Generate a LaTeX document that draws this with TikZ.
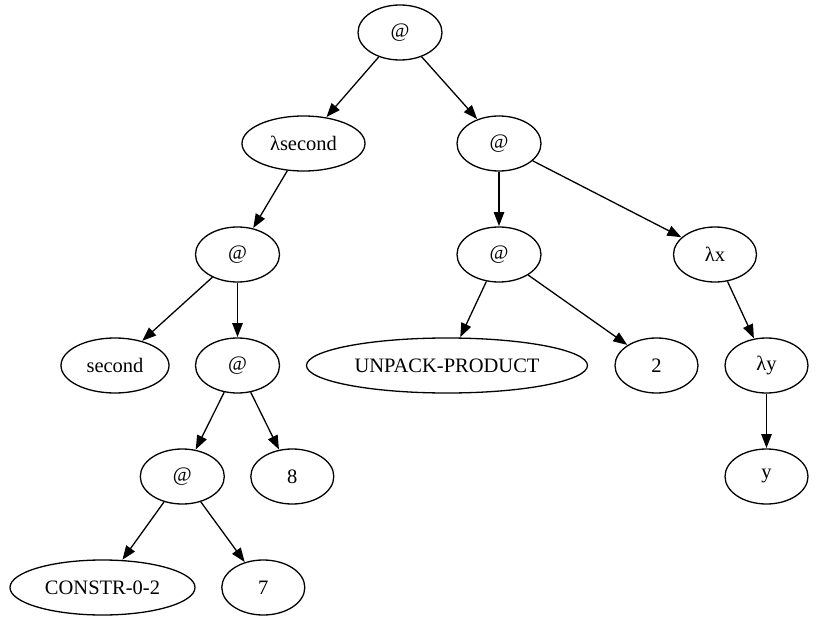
\documentclass[tikz,border=0pt]{standalone}
\usepackage{fontspec}
\setmainfont{Liberation Serif}
\usetikzlibrary{shapes.geometric,arrows.meta}
\begin{document}
\begin{tikzpicture}[x=1bp,y=-1bp,
  nd/.style={draw,ellipse,line width=1.3bp,inner sep=0pt,minimum height=55bp,
    font=\fontsize{20.5bp}{24bp}\selectfont},
  w/.style={minimum width=#1bp},
  edge/.style={line width=1.3bp,-{Triangle[length=14bp,width=10.5bp]},shorten >=0.3bp}]
\useasboundingbox (0,0) rectangle (817,628);
\node[nd,w=84] (root) at (400,32.5) {@};
\node[nd,w=123] (lsec) at (303.5,143.5) {λsecond};
\node[nd,w=84] (atR) at (499,143.5) {@};
\node[nd,w=84] (atL2) at (237.5,254.5) {@};
\node[nd,w=84] (atM2) at (499,254.5) {@};
\node[nd,w=83] (lx) at (715,254.5) {λx};
\node[nd,w=108] (second) at (115,365.5) {second};
\node[nd,w=84] (at3) at (237.5,365.5) {@};
\node[nd,w=281] (unpack) at (447,365.5) {UNPACK-PRODUCT};
\node[nd,w=83] (two) at (656.5,365.5) {2};
\node[nd,w=83] (ly) at (766.5,365.5) {λy};
\node[nd,w=84] (at4) at (182.3,476.5) {@};
\node[nd,w=83] (eight) at (292.3,476.5) {8};
\node[nd,w=83] (yy) at (766.5,476.5) {y};
\node[nd,w=185] (constr) at (102.5,587.5) {CONSTR-0-2};
\node[nd,w=83] (seven) at (263.3,587.5) {7};
\draw[edge] (root) -- (lsec);
\draw[edge] (root) -- (atR);
\draw[edge] (lsec) -- (atL2);
\draw[edge] (atL2) -- (second);
\draw[edge] (atL2) -- (at3);
\draw[edge] (at3) -- (at4);
\draw[edge] (at3) -- (eight);
\draw[edge] (at4) -- (constr);
\draw[edge] (at4) -- (seven);
\draw[edge] (atR) -- (atM2);
\draw[edge] (atR) -- (lx);
\draw[edge] (atM2) -- (unpack);
\draw[edge] (atM2) -- (two);
\draw[edge] (lx) -- (ly);
\draw[edge] (ly) -- (yy);
\end{tikzpicture}
\end{document}
